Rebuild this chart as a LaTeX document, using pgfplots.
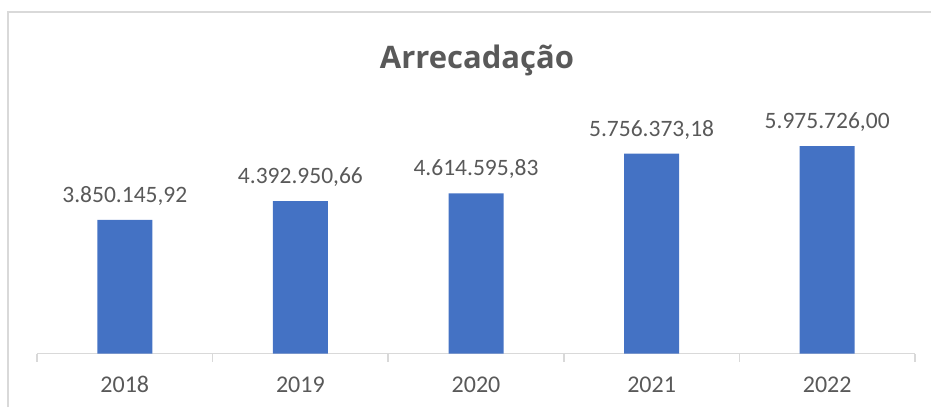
\documentclass[border=0pt]{standalone}
\usepackage{pgfplots}
\pgfplotsset{compat=1.18}
\usepackage{fontspec}
\setmainfont{Carlito}
\newfontfamily\titlefont{Open Sans}
\definecolor{barblue}{HTML}{4472C4}
\definecolor{txtgray}{HTML}{595959}
\definecolor{linegray}{HTML}{D9D9D9}
\begin{document}
\begin{tikzpicture}[x=1pt,y=1pt]
\useasboundingbox (0,0) rectangle (931,407);
\draw[linegray, line width=1.5pt] (8,0) -- (8,395) -- (931,395);
\node[anchor=base, text=txtgray, font=\titlefont\bfseries\fontsize{31}{36}\selectfont] at (477,338) {Arrecadação};
\begin{axis}[
  at={(37pt,53.5pt)}, anchor=south west,
  scale only axis, width=878pt, height=300pt,
  xmin=-0.5, xmax=4.5, ymin=0, ymax=8645000,
  axis x line*=bottom, axis y line=none,
  x axis line style={draw=linegray, line width=1.5pt},
  xtick={0,1,2,3,4},
  xticklabels={2018,2019,2020,2021,2022},
  major tick length=0pt,
  minor xtick={-0.5,0.5,1.5,2.5,3.5,4.5},
  minor tick length=8pt,
  xtick align=outside,
  minor tick style={draw=linegray, line width=1.5pt},
  xticklabel style={anchor=base, yshift=-38.5pt, text=txtgray, font=\fontsize{24}{28}\selectfont},
  clip=false,
]
\addplot[ybar, bar width=55pt, fill=barblue, draw=none,
  nodes near coords,
  point meta=explicit symbolic,
  nodes near coords style={anchor=base, yshift=17.5pt, text=txtgray, font=\fontsize{23.5}{28}\selectfont},
] table[meta=lab] {
x y lab
0 3850145.92 {3.850.145,92}
1 4392950.66 {4.392.950,66}
2 4614595.83 {4.614.595,83}
3 5756373.18 {5.756.373,18}
4 5975726.00 {5.975.726,00}
};
\end{axis}
\end{tikzpicture}
\end{document}
